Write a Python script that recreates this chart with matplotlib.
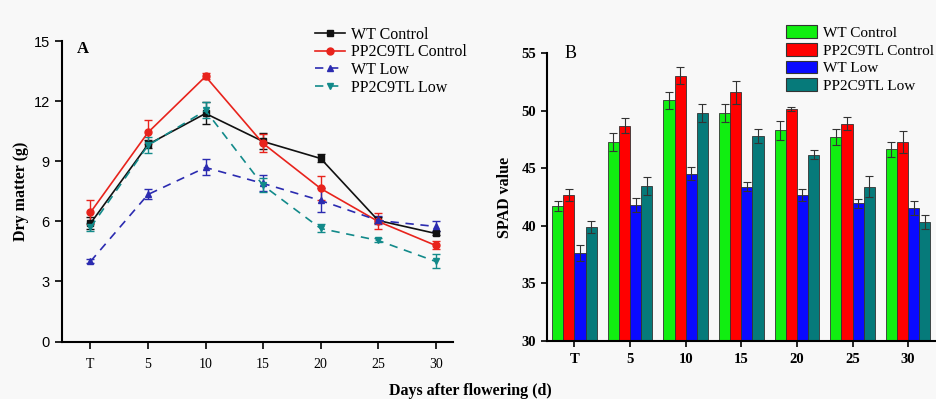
import numpy as np
import matplotlib
matplotlib.use("Agg")
import matplotlib.pyplot as plt
from matplotlib.patches import Patch
from matplotlib.lines import Line2D

# ---------------------------------------------------------------------------
# Data
# ---------------------------------------------------------------------------
days = ["T", "5", "10", "15", "20", "25", "30"]

# Panel A: dry matter (g)
dm_wt_ctrl = [5.9, 9.85, 11.4, 10.0, 9.15, 6.05, 5.4]
dm_wt_ctrl_err = [0.3, 0.2, 0.55, 0.4, 0.2, 0.15, 0.1]
dm_tl_ctrl = [6.45, 10.45, 13.25, 9.9, 7.65, 6.0, 4.8]
dm_tl_ctrl_err = [0.6, 0.6, 0.15, 0.45, 0.6, 0.4, 0.2]
dm_wt_low = [4.0, 7.35, 8.7, 7.9, 7.05, 6.05, 5.75]
dm_wt_low_err = [0.1, 0.25, 0.4, 0.4, 0.6, 0.2, 0.25]
dm_tl_low = [5.7, 9.8, 11.55, 7.8, 5.65, 5.05, 4.0]
dm_tl_low_err = [0.2, 0.4, 0.4, 0.35, 0.2, 0.1, 0.35]

# Panel B: SPAD value
sp_wt_ctrl = [41.75, 47.3, 50.9, 49.8, 48.3, 47.75, 46.65]
sp_wt_ctrl_err = [0.45, 0.75, 0.7, 0.8, 0.8, 0.7, 0.65]
sp_tl_ctrl = [42.7, 48.7, 53.05, 51.6, 50.15, 48.9, 47.3]
sp_tl_ctrl_err = [0.55, 0.65, 0.75, 1.0, 0.15, 0.6, 0.95]
sp_wt_low = [37.65, 41.8, 44.55, 43.4, 42.7, 41.95, 41.55]
sp_wt_low_err = [0.7, 0.6, 0.6, 0.4, 0.5, 0.35, 0.6]
sp_tl_low = [39.9, 43.45, 49.8, 47.8, 46.2, 43.4, 40.35]
sp_tl_low_err = [0.55, 0.8, 0.8, 0.6, 0.4, 0.9, 0.6]

labels = ["WT Control", "PP2C9TL Control", "WT Low", "PP2C9TL Low"]

SERIF = "Liberation Serif"
SANS = "Liberation Sans"

fig = plt.figure(figsize=(9.37, 3.99), dpi=100)
fig.patch.set_facecolor("#f8f8f8")

# ---------------------------------------------------------------------------
# Panel A: lines
# ---------------------------------------------------------------------------
ax1 = fig.add_axes([0.0658, 0.1441, 0.4177, 0.752])
ax1.set_facecolor("#f8f8f8")
x = np.arange(len(days))

line_styles = [
    (dm_wt_ctrl, dm_wt_ctrl_err, "#111111", "-", "s", 4),
    (dm_tl_ctrl, dm_tl_ctrl_err, "#e8231c", "-", "o", 5),
    (dm_wt_low, dm_wt_low_err, "#2b2bb0", (0, (5, 4)), "^", 5),
    (dm_tl_low, dm_tl_low_err, "#128a8a", (0, (5, 4)), "v", 5),
]
handles1 = []
for (vals, err, col, ls, mk, ms), lab in zip(line_styles, labels):
    ax1.errorbar(x, vals, yerr=err, color=col, linestyle=ls, marker=mk,
                 markersize=ms, linewidth=1.2, elinewidth=1.0, capsize=3,
                 capthick=1.0)
    handles1.append(Line2D([], [], color=col, linestyle=ls, marker=mk,
                           markersize=ms, linewidth=1.2))

ax1.set_xlim(-0.5, 6.3)
ax1.set_ylim(0, 15)
ax1.set_yticks([0, 3, 6, 9, 12, 15])
ax1.set_xticks(x)
ax1.set_xticklabels(days, family=SERIF, fontsize=10)
for t in ax1.get_yticklabels():
    t.set_family(SANS)
    t.set_fontsize(10.5)
for s in ["top", "right"]:
    ax1.spines[s].set_visible(False)
for s in ["left", "bottom"]:
    ax1.spines[s].set_linewidth(1.5)
ax1.tick_params(direction="out", length=5, width=1.2)
ax1.tick_params(axis="x", pad=7)
ax1.set_ylabel("Dry matter (g)", family=SERIF, fontweight="bold",
               fontsize=11.5, labelpad=3)
ax1.text(0.04, 1.0, "A", transform=ax1.transAxes, family=SERIF,
         fontweight="bold", fontsize=12, va="top")
ax1.legend(handles1, labels, loc="upper left", bbox_to_anchor=(0.63, 1.07),
           prop={"family": SERIF, "size": 11.5}, frameon=False,
           handlelength=1.9, handletextpad=0.4, labelspacing=0.1,
           borderaxespad=0)

# ---------------------------------------------------------------------------
# Panel B: bars
# ---------------------------------------------------------------------------
ax2 = fig.add_axes([0.5834, 0.1454, 0.4155, 0.7210])
ax2.set_facecolor("#f8f8f8")
bar_sets = [
    (sp_wt_ctrl, sp_wt_ctrl_err, "#11ee11"),
    (sp_tl_ctrl, sp_tl_ctrl_err, "#ff0000"),
    (sp_wt_low, sp_wt_low_err, "#0a0aff"),
    (sp_tl_low, sp_tl_low_err, "#067a7a"),
]
w = 0.2
for i, (vals, err, col) in enumerate(bar_sets):
    pos = x + (i - 1.5) * w
    heights = np.array(vals) - 30
    ax2.bar(pos, heights, width=w, bottom=30, color=col, edgecolor="#333333",
            linewidth=0.6, yerr=err,
            error_kw=dict(ecolor="#333333", elinewidth=0.8, capsize=3,
                          capthick=0.8))

ax2.set_xlim(-0.5, 6.5)
ax2.set_ylim(30, 55)
ax2.set_yticks([30, 35, 40, 45, 50, 55])
ax2.set_xticks(x)
ax2.set_xticklabels(days, family=SERIF, fontweight="bold", fontsize=10.5)
for t in ax2.get_yticklabels():
    t.set_family(SERIF)
    t.set_fontweight("bold")
    t.set_fontsize(10.5)
for s in ["top", "right"]:
    ax2.spines[s].set_visible(False)
for s in ["left", "bottom"]:
    ax2.spines[s].set_linewidth(1.5)
ax2.tick_params(direction="out", length=4, width=1.2)
ax2.tick_params(axis="x", pad=5)
ax2.set_ylabel("SPAD value", family=SERIF, fontweight="bold",
               fontsize=11.5, labelpad=6)
ax2.text(0.045, 1.0, "B", transform=ax2.transAxes, family=SERIF,
         fontsize=13, va="center")
handles2 = [Patch(facecolor=c, edgecolor="#333333", linewidth=0.8)
            for _, _, c in bar_sets]
ax2.legend(handles2, labels, loc="upper left",
           bbox_to_anchor=(0.6, 1.118),
           prop={"family": SERIF, "size": 11}, frameon=False,
           handlelength=2.0, handleheight=0.9, handletextpad=0.4,
           labelspacing=0.2, borderaxespad=0)

fig.text(0.502, 0.02, "Days after flowering (d)", family=SERIF,
         fontweight="bold", fontsize=11.5, ha="center", va="center")

fig.savefig("out.png", dpi=100, facecolor=fig.get_facecolor())
